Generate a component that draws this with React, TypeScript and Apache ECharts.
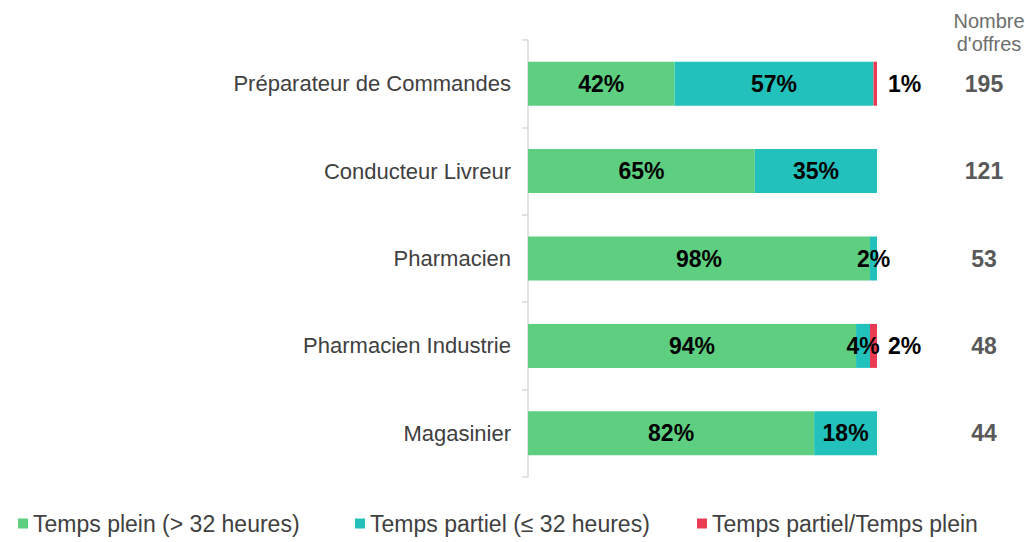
import React, { useEffect, useRef } from "react";
import * as echarts from "echarts";

const categories = [
  "Préparateur de Commandes",
  "Conducteur Livreur",
  "Pharmacien",
  "Pharmacien Industrie",
  "Magasinier",
];
const tempsPlein = [42, 65, 98, 94, 82];
const tempsPartiel = [57, 35, 2, 4, 18];
const tempsMixte: (number | null)[] = [1, null, null, 2, null];
const nombreOffres = ["195", "121", "53", "48", "44"];
const seriesNames = [
  "Temps plein (> 32 heures)",
  "Temps partiel (≤ 32 heures)",
  "Temps partiel/Temps plein",
];
const legendLefts = [18, 355, 697];

const FONT = "'Liberation Sans', Arial, sans-serif";

export default function App() {
  const ref = useRef<HTMLDivElement>(null);
  useEffect(() => {
    document.body.style.margin = "0";
    if (!ref.current) return;
    const chart = echarts.init(ref.current, undefined, { renderer: "svg" });
    const labelInside = {
      show: true,
      position: "inside" as const,
      formatter: (p: any) => (p.value == null ? "" : `${p.value}%`),
      color: "#000",
      fontWeight: "bold" as const,
      fontSize: 23,
      fontFamily: FONT,
    };
    chart.setOption({
      animation: false,
      textStyle: { fontFamily: FONT },
      title: {
        text: "Nombre\nd'offres",
        left: 984,
        top: 4,
        textAlign: "center",
        textStyle: {
          fontSize: 20,
          fontWeight: "normal",
          color: "#6e6e6e",
          lineHeight: 23,
          fontFamily: FONT,
        },
      },
      legend: seriesNames.map((n, i) => ({
        left: legendLefts[i],
        top: 512,
        padding: 0,
        icon: "rect",
        itemWidth: 10,
        itemHeight: 10,
        itemTextGap: 6,
        textStyle: { fontSize: 23, color: "#404040", fontFamily: FONT },
        data: [n],
      })),
      grid: { left: 528, right: 148, top: 40, bottom: 65 },
      xAxis: {
        type: "value",
        min: 0,
        max: 100,
        show: false,
      },
      yAxis: [
        {
          type: "category",
          data: categories,
          inverse: true,
          axisLine: { show: true, lineStyle: { color: "#d9d9d9", width: 1.5 } },
          axisTick: { show: true, length: 6, lineStyle: { color: "#d9d9d9", width: 1.5 } },
          axisLabel: { fontSize: 22, color: "#404040", margin: 17, fontFamily: FONT },
        },
        {
          type: "category",
          data: nombreOffres,
          inverse: true,
          position: "right",
          axisLine: { show: false },
          axisTick: { show: false },
          axisLabel: {
            fontSize: 23,
            fontWeight: "bold",
            color: "#595959",
            margin: 107,
            align: "center",
            fontFamily: FONT,
          },
        },
      ],
      series: [
        {
          name: seriesNames[0],
          type: "bar",
          stack: "total",
          barWidth: 44,
          data: tempsPlein,
          itemStyle: { color: "#5ecf80" },
          label: labelInside,
        },
        {
          name: seriesNames[1],
          type: "bar",
          stack: "total",
          barWidth: 44,
          data: tempsPartiel,
          itemStyle: { color: "#22c1bb" },
          label: labelInside,
        },
        {
          name: seriesNames[2],
          type: "bar",
          stack: "total",
          barWidth: 44,
          data: tempsMixte,
          itemStyle: { color: "#ea3b52" },
          label: { ...labelInside, position: "right", distance: 11 },
        },
      ],
    });
    return () => chart.dispose();
  }, []);
  return <div ref={ref} style={{ width: 1025, height: 542 }} />;
}
